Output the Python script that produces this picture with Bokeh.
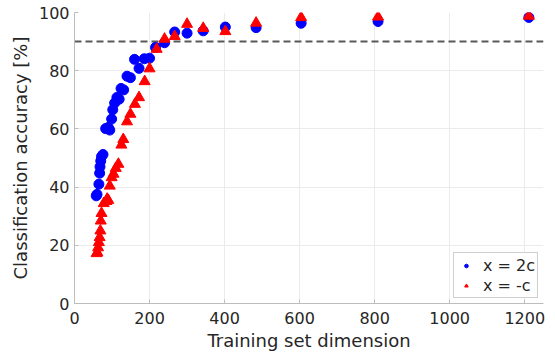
from bokeh.plotting import figure
from bokeh.models import Range1d, FixedTicker, Span, Legend, LegendItem
from bokeh.embed import file_html
from bokeh.resources import INLINE

# Series "x = 2c" (blue circles)
blue_x = [58, 60, 65, 67, 68, 70, 72, 76, 83, 90, 94, 99, 102, 107, 113, 119, 124, 131,
          140, 149, 160, 172, 186, 200, 216, 240, 267, 300, 343, 402, 484, 604, 809, 1211]
blue_y = [37.0, 37.5, 41.0, 44.8, 47.0, 49.0, 50.5, 51.2, 60.1, 60.5, 59.6, 63.4, 66.6, 68.9,
          70.8, 70.2, 73.9, 73.4, 78.1, 77.6, 83.9, 80.8, 84.1, 84.3, 88.0, 89.6, 93.3, 92.9,
          93.7, 95.0, 94.8, 96.3, 96.9, 98.3]

# Series "x = -c" (red triangles)
red_x = [59, 61, 63, 65, 67, 69, 70, 72, 78, 85, 87, 90, 94, 99, 104, 110, 117, 125, 130,
         140, 149, 161, 172, 187, 200, 219, 240, 267, 300, 343, 402, 484, 604, 809, 1211]
red_y = [17.2, 17.5, 19.2, 21.0, 22.7, 25.0, 28.4, 31.0, 34.4, 35.1, 35.9, 35.5, 40.4, 43.3,
         44.5, 46.5, 47.9, 54.5, 56.4, 62.5, 65.1, 68.5, 70.8, 76.3, 80.7, 87.4, 90.9, 91.8,
         96.0, 94.6, 93.5, 96.4, 98.3, 98.5, 98.8]

threshold = 90
x_ticks = [0, 200, 400, 600, 800, 1000, 1200]
y_ticks = [0, 20, 40, 60, 80, 100]
labels = ["x = 2c", "x = -c"]

FONT = "DejaVu Sans"
TXT = "#262626"

p = figure(frame_width=469, frame_height=291,
           min_border_left=74, min_border_right=10, min_border_top=12, min_border_bottom=52,
           x_range=Range1d(0, 1250), y_range=Range1d(0, 100),
           output_backend="svg", toolbar_location=None,
           x_axis_label="Training set dimension", y_axis_label="Classification accuracy [%]")

p.outline_line_color = None
p.background_fill_color = "white"
p.border_fill_color = "white"

p.xaxis.ticker = FixedTicker(ticks=x_ticks)
p.yaxis.ticker = FixedTicker(ticks=y_ticks)
for ax in (p.xaxis, p.yaxis):
    ax.axis_line_color = "#bdbdbd"
    ax.major_tick_line_color = "#bdbdbd"
    ax.major_tick_in = 4
    ax.major_tick_out = 0
    ax.minor_tick_line_color = None
    ax.major_label_text_font = FONT
    ax.major_label_text_font_size = "16px"
    ax.major_label_text_color = TXT
    ax.axis_label_text_font = FONT
    ax.axis_label_text_font_size = "18px"
    ax.axis_label_text_font_style = "normal"
    ax.axis_label_text_color = TXT
    ax.major_label_standoff = 5
p.xaxis.major_label_standoff = 8
p.xaxis.axis_label_standoff = 3
p.yaxis.axis_label_standoff = 5

p.xgrid.grid_line_color = "#ebebeb"
p.ygrid.grid_line_color = "#ebebeb"

span = Span(location=threshold, dimension="width", line_color="#595959",
            line_dash="7 4", line_width=2, level="underlay")
p.add_layout(span)

rb = p.scatter(blue_x, blue_y, marker="circle", size=10, fill_color="#0000ff",
               line_color="#0000ff")
rr = p.scatter(red_x, red_y, marker="triangle", size=11, fill_color="#ff0000",
               line_color="#ff0000")

legend = Legend(items=[LegendItem(label=labels[0], renderers=[rb]),
                       LegendItem(label=labels[1], renderers=[rr])],
                location="bottom_right", margin=5, padding=2, spacing=0,
                glyph_width=20, glyph_height=9, label_height=20, label_standoff=7,
                label_text_font=FONT, label_text_font_size="16px", label_text_color=TXT,
                border_line_color="#a0a0a0", background_fill_alpha=1.0)
p.add_layout(legend)

open("out.html", "w").write(file_html(p, INLINE))
